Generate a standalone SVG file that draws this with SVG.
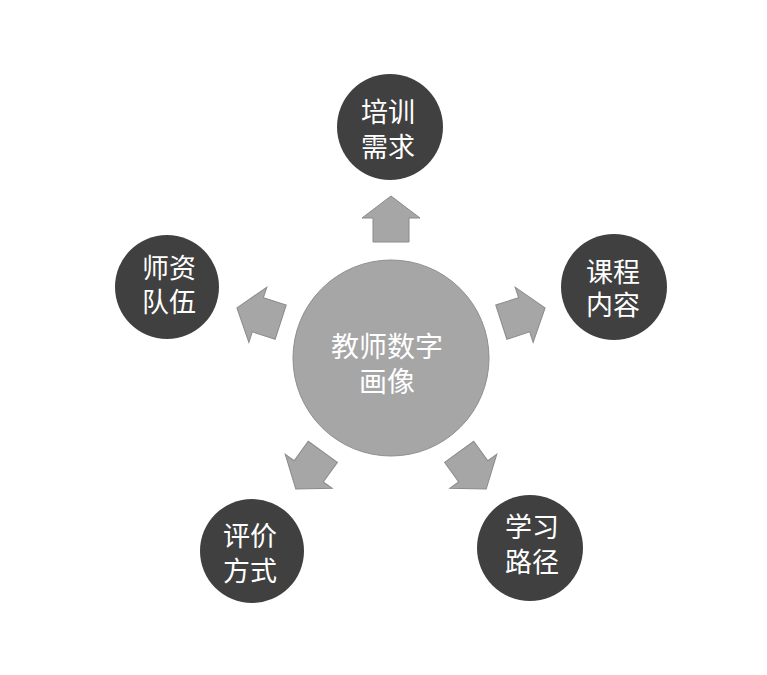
<svg xmlns="http://www.w3.org/2000/svg" width="767" height="675" viewBox="0 0 767 675">
<defs>
<style>
.outer{fill:#404040;}
.center{fill:#a6a6a6;stroke:#8e8e8e;stroke-width:1;}
.arrow{fill:#a6a6a6;stroke:#8a8a8a;stroke-width:1;}
.t{fill:#ffffff;font-family:"Noto Sans CJK SC","Noto Sans",sans-serif;font-size:27px;text-anchor:middle;dominant-baseline:central;}
.tc{fill:#ffffff;font-family:"Noto Sans CJK SC","Noto Sans",sans-serif;font-size:28px;text-anchor:middle;dominant-baseline:central;}
</style>
<path id="arr" class="arrow" d="M116,-18 L140,-18 L140,-29 L162,0 L140,29 L140,18 L116,18 Z"/>
</defs>
<rect width="767" height="675" fill="#ffffff"/>
<g id="connectors">
<use href="#arr" transform="translate(391,358) rotate(-90)"/>
<use href="#arr" transform="translate(391,358) rotate(-18)"/>
<use href="#arr" transform="translate(391,358) rotate(54)"/>
<use href="#arr" transform="translate(391,358) rotate(126)"/>
<use href="#arr" transform="translate(391,358) rotate(198)"/>
</g>
<g id="center">
<circle class="center" cx="391" cy="358" r="98"/>
<text class="tc" x="387" y="345">教师数字</text>
<text class="tc" x="387" y="380">画像</text>
</g>
<g id="n-top">
<circle class="outer" cx="390" cy="127" r="53"/>
<text class="t" x="388" y="110">培训</text>
<text class="t" x="388" y="145">需求</text>
</g>
<g id="n-right">
<circle class="outer" cx="614" cy="287" r="53"/>
<text class="t" x="613" y="270">课程</text>
<text class="t" x="613" y="303">内容</text>
</g>
<g id="n-bottom-right">
<circle class="outer" cx="530" cy="548" r="53"/>
<text class="t" x="532" y="525">学习</text>
<text class="t" x="532" y="560">路径</text>
</g>
<g id="n-bottom-left">
<circle class="outer" cx="252" cy="551" r="52"/>
<text class="t" x="250" y="534">评价</text>
<text class="t" x="250" y="569">方式</text>
</g>
<g id="n-left">
<circle class="outer" cx="167" cy="287" r="52"/>
<text class="t" x="169" y="266">师资</text>
<text class="t" x="169" y="300">队伍</text>
</g>
</svg>
